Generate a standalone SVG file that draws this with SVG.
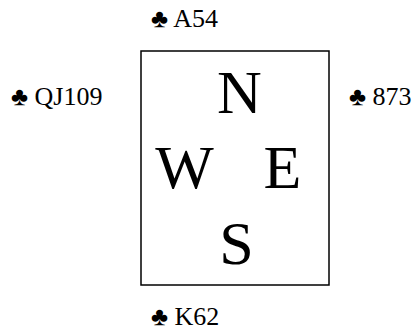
<svg xmlns="http://www.w3.org/2000/svg" width="416" height="331" viewBox="0 0 416 331">
<style>
.hand{font-family:"Liberation Serif","Times New Roman",serif;font-size:26px;fill:#000}
.dir{font-family:"Liberation Serif","Times New Roman",serif;font-size:62px;fill:#000;text-anchor:middle}
</style>
<rect width="416" height="331" fill="#fff"/>
<g id="table">
<rect x="141" y="51" width="188" height="234" fill="none" stroke="#000" stroke-width="1.5"/>
<text class="dir" x="239.5" y="112.5">N</text>
<text class="dir" x="184.5" y="188">W</text>
<text class="dir" x="282.5" y="188">E</text>
<text class="dir" x="236.5" y="263.5">S</text>
</g>
<g id="north"><text class="hand" x="151" y="27">♣ A54</text></g>
<g id="west"><text class="hand" x="11" y="105">♣ QJ109</text></g>
<g id="east"><text class="hand" x="349" y="105">♣ 873</text></g>
<g id="south"><text class="hand" x="151" y="325">♣ K62</text></g>
<g id="connectors"></g>
</svg>
